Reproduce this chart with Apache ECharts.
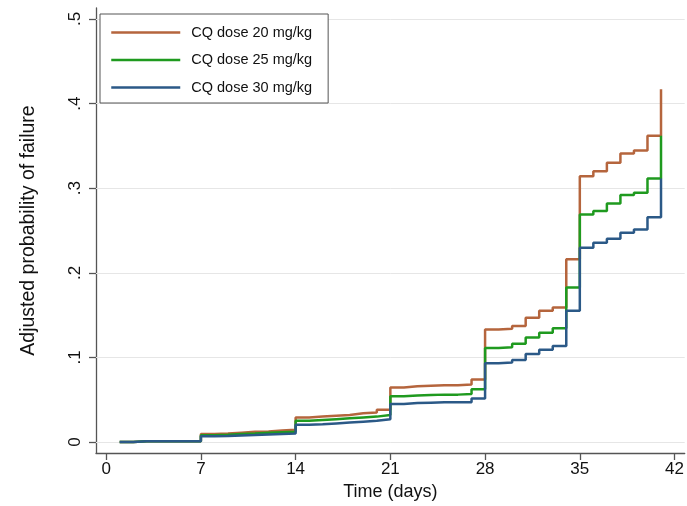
<!DOCTYPE html>
<html>
<head>
<meta charset="utf-8">
<script src="https://cdn.jsdelivr.net/npm/echarts@6/dist/echarts.min.js"></script>
<style>
html,body{margin:0;padding:0;background:#fff;}
#chart{width:687px;height:506px;}
</style>
</head>
<body>
<div id="chart"></div>
<script>
var days = [1,2,3,4,5,6,7,8,9,10,11,12,13,14,15,16,17,18,19,20,21,22,23,24,25,26,27,28,29,30,31,32,33,34,35,36,37,38,39,40,41];
var dose20 = [0,0.001,0.001,0.001,0.001,0.001,0.0094,0.010,0.011,0.012,0.0125,0.0135,0.0145,0.029,0.030,0.031,0.032,0.034,0.035,0.038,0.0645,0.066,0.0665,0.067,0.067,0.068,0.074,0.133,0.134,0.137,0.147,0.155,0.159,0.216,0.3142,0.320,0.330,0.341,0.3445,0.362,0.417];
var dose25 = [0,0.001,0.001,0.001,0.001,0.001,0.008,0.0087,0.0095,0.010,0.011,0.0115,0.012,0.025,0.026,0.027,0.028,0.029,0.030,0.032,0.054,0.055,0.0555,0.056,0.056,0.0566,0.0625,0.111,0.112,0.116,0.1235,0.129,0.1345,0.1825,0.269,0.273,0.282,0.292,0.2946,0.3115,0.362];
var dose30 = [0,0.001,0.001,0.001,0.001,0.001,0.0067,0.007,0.0077,0.0083,0.009,0.0095,0.010,0.0204,0.021,0.022,0.023,0.024,0.025,0.027,0.0448,0.046,0.0465,0.047,0.047,0.047,0.0515,0.093,0.094,0.097,0.104,0.109,0.1136,0.155,0.2297,0.2356,0.2403,0.2474,0.2513,0.2658,0.3115];
var xTicks = [0,7,14,21,28,35,42];
var yTicks = [0,0.1,0.2,0.3,0.4,0.5];
var seriesNames = ['CQ dose 20 mg/kg','CQ dose 25 mg/kg','CQ dose 30 mg/kg'];
var seriesColors = ['#b5653d','#1f9a1f','#2b5987'];

function pairs(vals){ return days.map(function(d,i){ return [d, vals[i]]; }); }
var FONT = '"Liberation Sans", Arial, Helvetica, sans-serif';
var axisCol = '#555555';

var chart = echarts.init(document.getElementById('chart'), null, {renderer:'canvas'});
chart.setOption({
  animation: false,
  backgroundColor: '#ffffff',
  textStyle: {fontFamily: FONT},
  grid: {left: 96, right: 1, top: 8, bottom: 52, containLabel: false},
  legend: {
    show: true,
    orient: 'vertical',
    left: 100, top: 14,
    padding: [11, 16, 8, 10],
    borderColor: '#555555', borderWidth: 1,
    backgroundColor: '#ffffff',
    itemWidth: 69, itemHeight: 14, itemGap: 12.5,
    itemStyle: {opacity: 0},
    lineStyle: {width: 2.5},
    textStyle: {fontFamily: FONT, fontSize: 14.5, color: '#111', padding: [0,0,0,6]},
    data: seriesNames
  },
  xAxis: {
    type: 'value', min: -0.75, max: 42.75,
    name: 'Time (days)', nameLocation: 'middle', nameGap: 30,
    nameTextStyle: {fontFamily: FONT, fontSize: 18, color: '#111'},
    axisLine: {show: true, onZero: false, lineStyle: {color: axisCol, width: 1.3}},
    axisTick: {show: true, length: 7, customValues: xTicks, lineStyle: {color: axisCol, width: 1.3}},
    axisLabel: {customValues: xTicks, fontFamily: FONT, fontSize: 17, color: '#111', margin: 8},
    splitLine: {show: false}
  },
  yAxis: {
    type: 'value', min: -0.013, max: 0.513,
    name: 'Adjusted probability of failure', nameLocation: 'middle', nameGap: 57, nameRotate: 90,
    nameTextStyle: {fontFamily: FONT, fontSize: 19.5, color: '#111'},
    axisLine: {show: true, onZero: false, lineStyle: {color: axisCol, width: 1.3}},
    axisTick: {show: true, length: 7, customValues: yTicks, lineStyle: {color: axisCol, width: 1.3}},
    axisLabel: {customValues: yTicks, rotate: 90, fontFamily: FONT, fontSize: 17, color: '#111', margin: 12,
      formatter: function(v){ return v === 0 ? '0' : String(+v.toFixed(1)).replace(/^0/, ''); }},
    splitLine: {show: false}
  },
  series: seriesNames.map(function(n, i){
    var vals = [dose20, dose25, dose30][i];
    var s = {
      name: n, type: 'line', step: 'end', data: pairs(vals),
      symbol: 'none', showSymbol: false,
      lineStyle: {color: seriesColors[i], width: 2.5},
      itemStyle: {color: seriesColors[i]},
      z: 2 + i
    };
    if (i === 0) {
      s.markLine = {
        silent: true, symbol: 'none', label: {show: false},
        lineStyle: {color: '#e6e6e6', width: 1, type: 'solid'},
        data: yTicks.map(function(t){ return {yAxis: t}; }),
        z: 1
      };
    }
    return s;
  })
});
</script>
</body>
</html>
